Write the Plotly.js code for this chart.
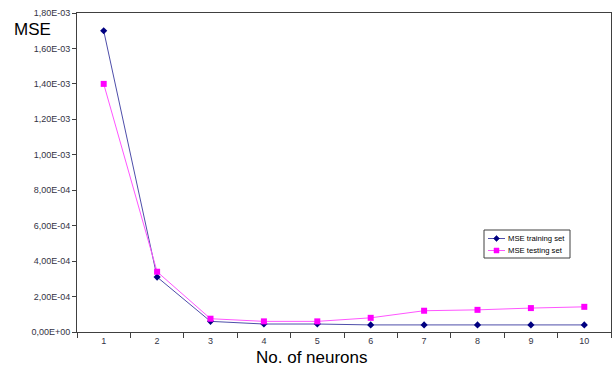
<!DOCTYPE html>
<html>
<head>
<meta charset="utf-8">
<script src="https://cdn.plot.ly/plotly-3.0.1.min.js"></script>
<style>html,body{margin:0;padding:0;background:#fff;}#chart{width:616px;height:368px;}</style>
</head>
<body>
<div id="chart"></div>
<script>
var neurons = ["1","2","3","4","5","6","7","8","9","10"];
var mseTraining = [1.70e-3, 3.1e-4, 6.0e-5, 4.5e-5, 4.5e-5, 4.0e-5, 4.0e-5, 4.0e-5, 4.0e-5, 4.0e-5];
var mseTesting  = [1.40e-3, 3.4e-4, 7.5e-5, 6.0e-5, 6.0e-5, 8.0e-5, 1.2e-4, 1.25e-4, 1.35e-4, 1.42e-4];
var seriesNames = ["MSE training set", "MSE testing set"];
var yTickVals = [0, 2e-4, 4e-4, 6e-4, 8e-4, 1e-3, 1.2e-3, 1.4e-3, 1.6e-3, 1.8e-3];
var yTickText = ["0,00E+00","2,00E-04","4,00E-04","6,00E-04","8,00E-04","1,00E-03","1,20E-03","1,40E-03","1,60E-03","1,80E-03"];

var trainLine = "#4e4eaa", trainMarker = "#000080";
var testLine = "#ff55ff", testMarker = "#ff00ff";

var traces = [
  {x: neurons, y: mseTraining, name: seriesNames[0], type: "scatter", mode: "lines+markers",
   line: {color: trainLine, width: 1}, marker: {symbol: "diamond", size: 5.5, color: trainMarker}},
  {x: neurons, y: mseTesting, name: seriesNames[1], type: "scatter", mode: "lines+markers",
   line: {color: testLine, width: 1}, marker: {symbol: "square", size: 6, color: testMarker}}
];

// custom legend (paper coordinates)
var PW = 534, PH = 319;
function px(x) { return (x - 77) / PW; }
function py(y) { return (332 - y) / PH; }
var rows = [238.5, 250.5];
var shapes = [
  {type: "rect", xref: "paper", yref: "paper", x0: px(484), x1: px(570), y0: py(258), y1: py(230),
   line: {color: "#404040", width: 1}, fillcolor: "#fff", layer: "above"},
  {type: "line", xref: "paper", yref: "paper", x0: px(488), x1: px(505), y0: py(rows[0]), y1: py(rows[0]),
   line: {color: trainLine, width: 1}, layer: "above"},
  {type: "path", xref: "paper", yref: "paper", layer: "above", fillcolor: trainMarker, line: {color: trainMarker, width: 0.5},
   path: "M " + px(496.5) + " " + py(rows[0] - 3) + " L " + px(499.5) + " " + py(rows[0]) + " L " + px(496.5) + " " + py(rows[0] + 3) + " L " + px(493.5) + " " + py(rows[0]) + " Z"},
  {type: "line", xref: "paper", yref: "paper", x0: px(488), x1: px(505), y0: py(rows[1]), y1: py(rows[1]),
   line: {color: testLine, width: 1}, layer: "above"},
  {type: "rect", xref: "paper", yref: "paper", x0: px(494), x1: px(499), y0: py(rows[1] + 2.5), y1: py(rows[1] - 2.5),
   line: {color: testMarker, width: 0.5}, fillcolor: testMarker, layer: "above"}
];

var layout = {
  width: 616, height: 368,
  margin: {l: 77, r: 5, t: 13, b: 36},
  paper_bgcolor: "#fff", plot_bgcolor: "#fff",
  font: {family: "Liberation Sans, Arial, sans-serif", color: "#333344"},
  showlegend: false,
  xaxis: {type: "category", tickson: "boundaries", ticks: "outside", ticklen: 5, tickcolor: "#404040",
          showline: true, linecolor: "#404040", linewidth: 1, mirror: true, showgrid: false, zeroline: false,
          tickfont: {size: 9, color: "#333344"}, range: [-0.5, 9.5]},
  yaxis: {range: [0, 1.8e-3], tickvals: yTickVals, ticktext: yTickText, ticks: "outside", ticklen: 4,
          tickcolor: "#404040", showline: true, linecolor: "#404040", linewidth: 1, mirror: true,
          showgrid: false, zeroline: false, tickfont: {size: 9, color: "#333344"}},
  shapes: shapes,
  annotations: [
    {text: "MSE", xref: "paper", yref: "paper", x: px(12), y: py(29), xanchor: "left", yanchor: "middle",
     showarrow: false, font: {size: 17, color: "#000", family: "Liberation Sans, Arial, sans-serif"}},
    {text: "No. of neurons", xref: "paper", yref: "paper", x: px(312), y: py(357), xanchor: "center", yanchor: "middle",
     showarrow: false, font: {size: 17, color: "#000", family: "Liberation Sans, Arial, sans-serif"}},
    {text: seriesNames[0], xref: "paper", yref: "paper", x: px(506), y: py(rows[0]), xanchor: "left", yanchor: "middle",
     showarrow: false, font: {size: 7.7, color: "#000"}},
    {text: seriesNames[1], xref: "paper", yref: "paper", x: px(506), y: py(rows[1]), xanchor: "left", yanchor: "middle",
     showarrow: false, font: {size: 7.7, color: "#000"}}
  ]
};

Plotly.newPlot("chart", traces, layout, {displayModeBar: false, staticPlot: true});
</script>
</body>
</html>
